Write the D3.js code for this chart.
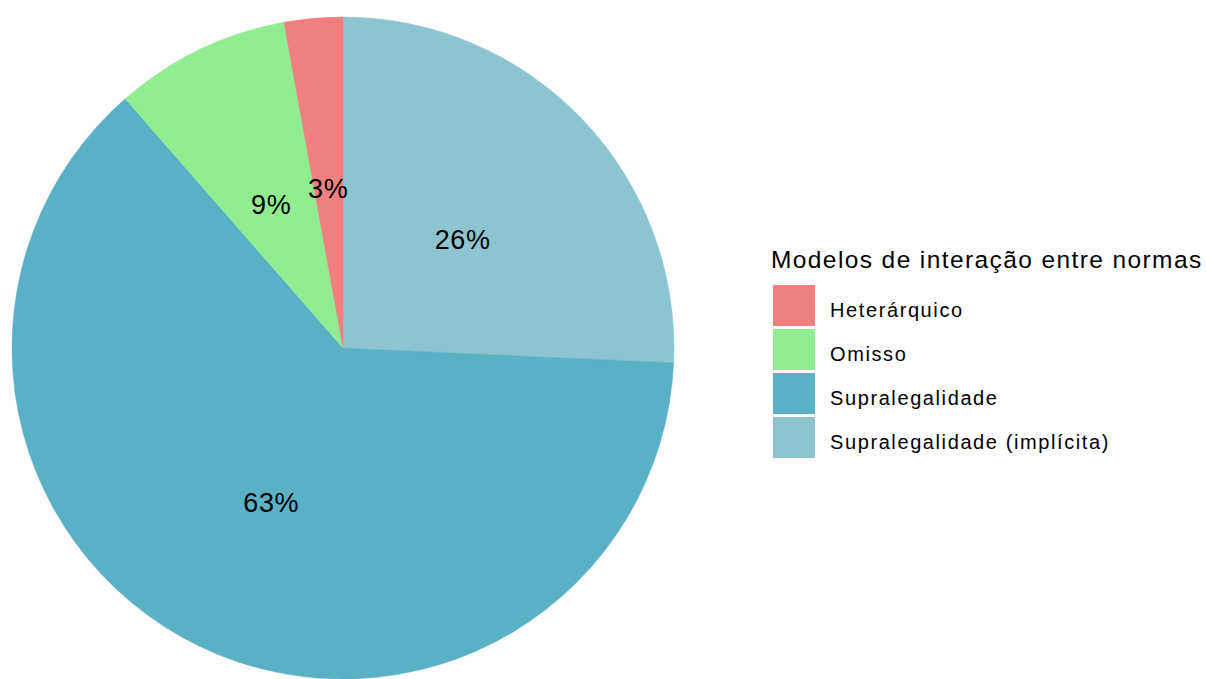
<!DOCTYPE html>
<html>
<head>
<meta charset="utf-8">
<script src="https://cdn.jsdelivr.net/npm/d3@7"></script>
<style>
  body { margin: 0; background: #fff; }
  text { font-family: "Liberation Sans", Arial, sans-serif; }
</style>
</head>
<body>
<div id="chart"></div>
<script>
// Dados
let categorias = ["Heterárquico", "Omisso", "Supralegalidade", "Supralegalidade (implícita)"]
let contagens = [1, 3, 22, 9]
let cores = ["#F08080", "#90EE90", "#5AB0C5", "#8CC5D0"]
let tituloLegenda = "Modelos de interação entre normas"

let width = 1206, height = 679
let cx = 343, cy = 348, raio = 331

let svg = d3.select("#chart")
  .append("svg")
    .attr("width", width)
    .attr("height", height)

let color = d3.scaleOrdinal()
  .domain(categorias)
  .range(cores)

let total = d3.sum(contagens)
let dados = categorias.map((c, i) => ({cat: c, n: contagens[i]}))

// ordem horária a partir do topo: inversa da legenda
let pie = d3.pie()
  .sort(null)
  .value(d => d.n)

let arcs = pie(dados.slice().reverse())

let arc = d3.arc().innerRadius(0).outerRadius(raio)
let arcLabel = d3.arc().innerRadius(raio / 2).outerRadius(raio / 2)

let g = svg.append("g")
  .attr("transform", "translate(" + cx + "," + cy + ")")

g.selectAll("path")
  .data(arcs)
  .enter()
  .append("path")
    .attr("d", arc)
    .style("fill", d => color(d.data.cat))
    .style("stroke", d => color(d.data.cat))
    .style("stroke-width", 0.5)

g.selectAll("text.value")
  .data(arcs)
  .enter()
  .append("text")
    .attr("class", "value")
    .attr("x", d => arcLabel.centroid(d)[0])
    .attr("y", d => arcLabel.centroid(d)[1] + 6)
    .attr("text-anchor", "middle")
    .attr("dominant-baseline", "central")
    .style("font-size", "27px")
    .style("letter-spacing", "0.6px")
    .style("fill", "#000")
    .text(d => Math.round(d.data.n / total * 100) + "%")

// Legenda
let legenda = svg.append("g")

legenda.append("text")
  .attr("x", 771)
  .attr("y", 268)
  .style("font-size", "24.5px")
  .style("letter-spacing", "1.4px")
  .style("fill", "#000")
  .text(tituloLegenda)

let y = d3.scaleBand()
  .domain(categorias)
  .range([283, 459])

let item = legenda.selectAll("g.item")
  .data(categorias)
  .enter()
  .append("g")
    .attr("class", "item")

item.append("rect")
  .attr("x", 773)
  .attr("y", d => y(d) + 2)
  .attr("width", 42)
  .attr("height", 41)
  .style("fill", d => color(d))

item.append("text")
  .attr("x", 830)
  .attr("y", d => y(d) + 34)
  .style("font-size", "20px")
  .style("letter-spacing", "1.6px")
  .style("fill", "#000")
  .text(d => d)
</script>
</body>
</html>
